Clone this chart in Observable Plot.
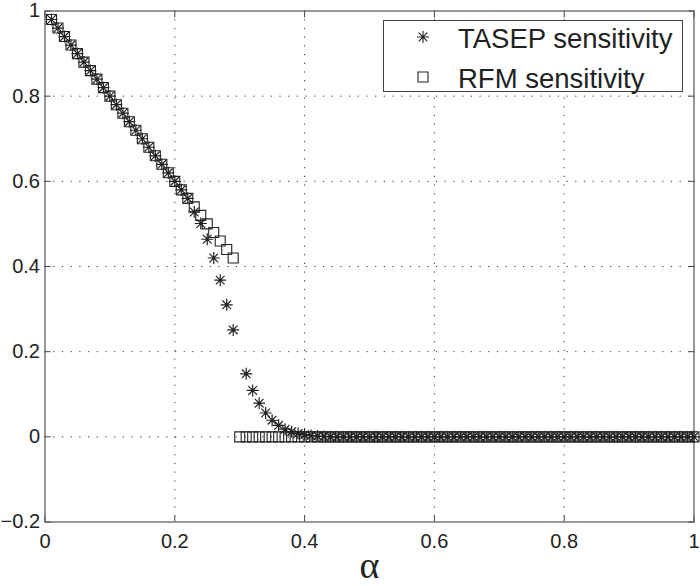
<!DOCTYPE html>
<html>
<head>
<meta charset="utf-8">
<script src="https://cdn.jsdelivr.net/npm/d3@7"></script>
<script src="https://cdn.jsdelivr.net/npm/@observablehq/plot@0.6"></script>
<style>
  html, body { margin: 0; padding: 0; background: #fff; }
  #wrap { position: relative; width: 700px; height: 586px; font-family: "Liberation Sans", Arial, sans-serif; }
  #legend { position: absolute; left: 383px; top: 20px; width: 300px; height: 72px; box-sizing: border-box;
            border: 1px solid #444; background: #fff; overflow: visible; }
</style>
</head>
<body>
<div id="wrap">
  <div id="chart"></div>
  <div id="legend"></div>
</div>
<script>
// ---- data ----
const alpha = [0.01,0.02,0.03,0.04,0.05,0.06,0.07,0.08,0.09,0.10,
  0.11,0.12,0.13,0.14,0.15,0.16,0.17,0.18,0.19,0.20,
  0.21,0.22,0.23,0.24,0.25,0.26,0.27,0.28,0.29,0.30,
  0.31,0.32,0.33,0.34,0.35,0.36,0.37,0.38,0.39,0.40,
  0.41,0.42,0.43,0.44,0.45,0.46,0.47,0.48,0.49,0.50,
  0.51,0.52,0.53,0.54,0.55,0.56,0.57,0.58,0.59,0.60,
  0.61,0.62,0.63,0.64,0.65,0.66,0.67,0.68,0.69,0.70,
  0.71,0.72,0.73,0.74,0.75,0.76,0.77,0.78,0.79,0.80,
  0.81,0.82,0.83,0.84,0.85,0.86,0.87,0.88,0.89,0.90,
  0.91,0.92,0.93,0.94,0.95,0.96,0.97,0.98,0.99,1.00];

const tasepSensitivity = [0.98,0.96,0.94,0.92,0.90,0.88,0.86,0.84,0.82,0.80,
  0.78,0.76,0.74,0.72,0.70,0.68,0.66,0.64,0.62,0.60,
  0.58,0.56,0.528,0.501,0.464,0.420,0.368,0.310,0.251,null,
  0.148,0.109,0.079,0.056,0.039,0.027,0.018,0.012,0.008,0.005,
  0.003,0.002,0.001,0,0,0,0,0,0,0,
  0,0,0,0,0,0,0,0,0,0,
  0,0,0,0,0,0,0,0,0,0,
  0,0,0,0,0,0,0,0,0,0,
  0,0,0,0,0,0,0,0,0,0,
  0,0,0,0,0,0,0,0,0,0];

const rfmSensitivity = [0.98,0.96,0.94,0.92,0.90,0.88,0.86,0.84,0.82,0.80,
  0.78,0.76,0.74,0.72,0.70,0.68,0.66,0.64,0.62,0.60,
  0.58,0.56,0.54,0.52,0.50,0.48,0.46,0.44,0.42,0,
  0,0,0,0,0,0,0,0,0,0,
  0,0,0,0,0,0,0,0,0,0,
  0,0,0,0,0,0,0,0,0,0,
  0,0,0,0,0,0,0,0,0,0,
  0,0,0,0,0,0,0,0,0,0,
  0,0,0,0,0,0,0,0,0,0,
  0,0,0,0,0,0,0,0,0,0];

const xTicks = [0, 0.2, 0.4, 0.6, 0.8, 1];
const xTickLabels = ["0", "0.2", "0.4", "0.6", "0.8", "1"];
const yTicks = [-0.2, 0, 0.2, 0.4, 0.6, 0.8, 1];
const yTickLabels = ["\u22120.2", "0", "0.2", "0.4", "0.6", "0.8", "1"];
const seriesNames = ["TASEP sensitivity", "RFM sensitivity"];
const xLabel = "\u03b1";

const rows = alpha.map((a, i) => ({a, t: tasepSensitivity[i], r: rfmSensitivity[i]}));

// ---- custom Matlab-like markers ----
const starSymbol = {
  draw(ctx, size) {
    const r = Math.sqrt(size / Math.PI), d = r * 0.72;
    ctx.moveTo(-r, 0); ctx.lineTo(r, 0);
    ctx.moveTo(0, -r); ctx.lineTo(0, r);
    ctx.moveTo(-d, -d); ctx.lineTo(d, d);
    ctx.moveTo(-d, d); ctx.lineTo(d, -d);
  }
};
const squareSymbol = {
  draw(ctx, size) {
    const r = Math.sqrt(size / Math.PI);
    ctx.rect(-r, -r, 2 * r, 2 * r);
  }
};

const ink = "#222";
const innerX = xTicks.filter(v => v > 0 && v < 1);
const innerY = yTicks.filter(v => v > -0.2 && v < 1);

const chart = Plot.plot({
  width: 700,
  height: 586,
  marginLeft: 44.5,
  marginRight: 6.5,
  marginTop: 10.5,
  marginBottom: 64.5,
  style: {fontFamily: "'Liberation Sans', Arial, sans-serif", fontSize: "20px", color: ink, background: "#fff"},
  x: {domain: [0, 1]},
  y: {domain: [-0.2, 1]},
  marks: [
    Plot.gridX(innerX, {stroke: "#333", strokeOpacity: 1, strokeWidth: 1, strokeDasharray: "1.2,7.5"}),
    Plot.gridY(innerY, {stroke: "#333", strokeOpacity: 1, strokeWidth: 1, strokeDasharray: "1.2,7.5"}),
    // inward ticks on all four sides
    Plot.axisX(xTicks, {anchor: "bottom", tickSize: -6, tickFormat: () => "", label: null, stroke: "#444"}),
    Plot.axisX(xTicks, {anchor: "top", tickSize: -6, tickFormat: () => "", label: null, stroke: "#444"}),
    Plot.axisY(yTicks, {anchor: "left", tickSize: -6, tickFormat: () => "", label: null, stroke: "#444"}),
    Plot.axisY(yTicks, {anchor: "right", tickSize: -6, tickFormat: () => "", label: null, stroke: "#444"}),
    // tick labels
    Plot.axisX(xTicks, {anchor: "bottom", tickSize: 0, tickPadding: 12, tickFormat: (d, i) => xTickLabels[i], label: null}),
    Plot.axisY(yTicks, {anchor: "left", tickSize: 0, tickPadding: 5, tickFormat: (d, i) => yTickLabels[i], label: null}),
    Plot.frame({stroke: "#555", strokeWidth: 1.2}),
    Plot.text([xLabel], {frameAnchor: "bottom", dy: 56, fontSize: 38, fontFamily: "'Liberation Serif', 'DejaVu Serif', serif", fill: ink}),
    Plot.dot(rows, {x: "a", y: "r", symbol: squareSymbol, r: 5, fill: "none", stroke: ink, strokeWidth: 1.1}),
    Plot.dot(rows, {x: "a", y: "t", symbol: starSymbol, r: 6, fill: "none", stroke: ink, strokeWidth: 1.2})
  ]
});
document.getElementById("chart").appendChild(chart);

// ---- legend ----
const NS = "http://www.w3.org/2000/svg";
const lg = document.createElementNS(NS, "svg");
lg.setAttribute("width", 298); lg.setAttribute("height", 70);
lg.style.display = "block";
lg.style.overflow = "visible";
const symPath = (sym, r) => { const p = d3.path(); sym.draw(p, Math.PI * r * r); return p.toString(); };
[[starSymbol, 6], [squareSymbol, 5]].forEach(([sym, r], i) => {
  const g = document.createElementNS(NS, "path");
  g.setAttribute("d", symPath(sym, r));
  g.setAttribute("transform", `translate(39,${16 + i * 40})`);
  g.setAttribute("fill", "none"); g.setAttribute("stroke", ink); g.setAttribute("stroke-width", 1.1);
  lg.appendChild(g);
  const t = document.createElementNS(NS, "text");
  t.setAttribute("x", 74); t.setAttribute("y", 27 + i * 40);
  t.setAttribute("font-family", "'Liberation Sans', Arial, sans-serif");
  t.setAttribute("font-size", 27.5); t.setAttribute("fill", ink);
  t.textContent = seriesNames[i];
  lg.appendChild(t);
});
document.getElementById("legend").appendChild(lg);
</script>
</body>
</html>
